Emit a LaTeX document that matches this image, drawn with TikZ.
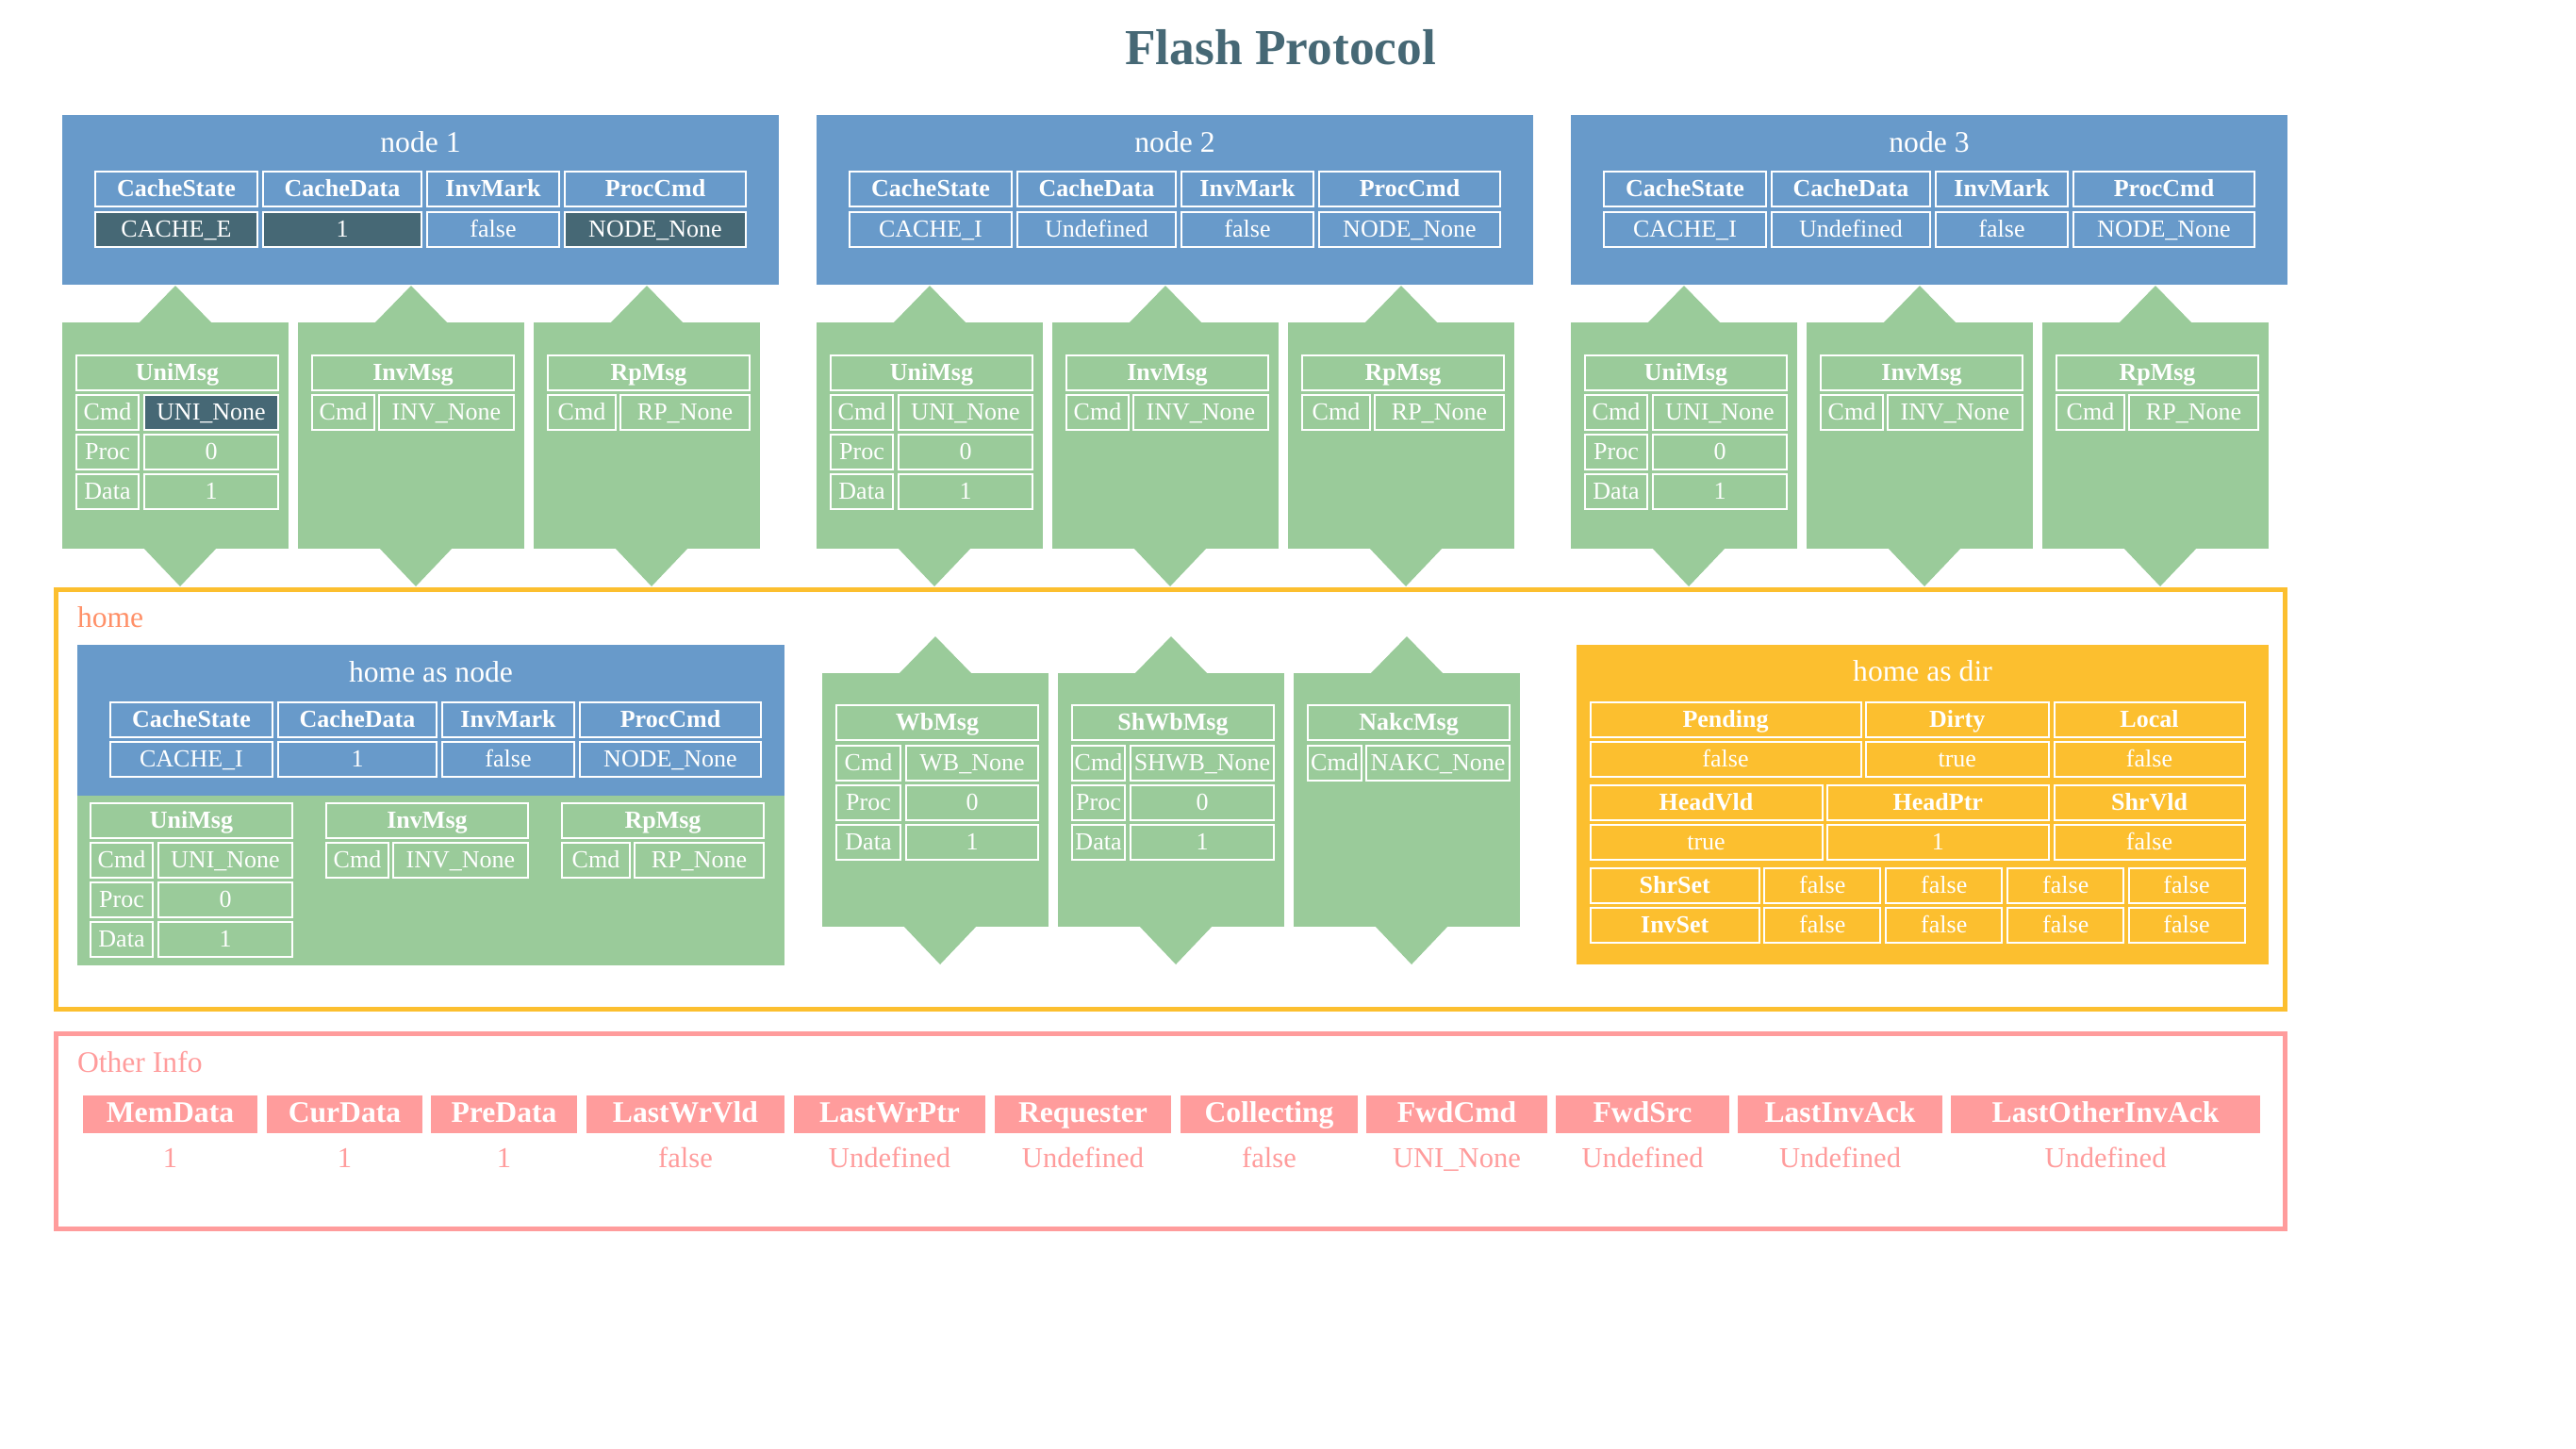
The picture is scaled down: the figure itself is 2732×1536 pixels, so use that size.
\documentclass[tikz,border=0pt]{standalone}
\usepackage{fontspec}
\setmainfont{Liberation Serif}
\usetikzlibrary{positioning}

\definecolor{nodeblue}{HTML}{689ACA}
\definecolor{msggreen}{HTML}{9ACB9A}
\definecolor{dirgold}{HTML}{FCBF2F}
\definecolor{infopink}{HTML}{FF9C9C}
\definecolor{slate}{HTML}{466875}
\definecolor{coral}{HTML}{FF9068}

\begin{document}
\begin{tikzpicture}[
  x=0.1mm, y=-0.1mm,
  every node/.style={inner sep=0pt, outer sep=0pt},
  nodebox/.style={fill=nodeblue, minimum width=76mm, minimum height=18mm},
  msgbox/.style={fill=msggreen, minimum width=24mm},
  wedge/.style={fill=msggreen},
  boxtitle/.style={anchor=base, text=white, font=\fontsize{9}{11}\selectfont},
  zonetitle/.style={anchor=base west, font=\fontsize{9}{11}\selectfont},
  zone/.style={line width=0.5mm, minimum width=236.4mm},
  cell/.style={draw=white, line width=0.2mm, text=white, minimum height=3.7mm,
               text height=2.2mm, text depth=0.56mm, font=\fontsize{7.4}{9}\selectfont},
  hcell/.style={cell, font=\fontsize{7.4}{9}\selectfont\bfseries},
  lit/.style={fill=slate},
  unlit/.style={},
  infokey/.style={fill=infopink, text=white, minimum height=4mm, text height=2.43mm,
                  text depth=0.69mm, font=\fontsize{9}{11}\selectfont\bfseries},
  infoval/.style={anchor=base, text=infopink, font=\fontsize{8.7}{11}\selectfont}
]
\useasboundingbox (0,0) rectangle (2732,1536);

% title
\node[anchor=base, text=slate, font=\fontsize{15.2}{18}\selectfont\bfseries] (title) at (1358,68) {Flash Protocol};

% the three nodes, their state and their message boxes
\foreach \i/\dx/\cstate/\cdata/\tint in {1/0/CACHE\_E/1/lit, 2/80/CACHE\_I/Undefined/unlit,
                                       3/160/CACHE\_I/Undefined/unlit} {
  \begin{scope}[xshift=\dx mm]
    \node[nodebox] (node\i) at (446,212) {};
    \node[boxtitle] (node\i-t) at (446,161) {node \i};
    \node[hcell, minimum width=17.2mm] (cs\i) at (187,200.5) {CacheState};
    \node[hcell, minimum width=16.8mm] (cd\i) at (363,200.5) {CacheData};
    \node[hcell, minimum width=14mm]   (im\i) at (523,200.5) {InvMark};
    \node[hcell, minimum width=19.2mm] (pc\i) at (695,200.5) {ProcCmd};
    \node[cell, \tint, minimum width=17.2mm] (cs\i-v) at (187,243) {\cstate};
    \node[cell, \tint, minimum width=16.8mm] (cd\i-v) at (363,243) {\cdata};
    \node[cell, minimum width=14mm]          (im\i-v) at (523,243) {false};
    \node[cell, \tint, minimum width=19.2mm] (pc\i-v) at (695,243) {NODE\_None};
    \node[msgbox, minimum height=24mm] (uni\i) at (186,462) {};
    \node[msgbox, minimum height=24mm] (inv\i) at (436,462) {};
    \node[msgbox, minimum height=24mm] (rp\i)  at (686,462) {};
  \end{scope}
}

% home
\node[zone, draw=dirgold, minimum height=44.5mm] (home) at (1241,848) {};
\node[zonetitle, text=coral] (home-t) at (82,665) {home};

% home as node
\node[fill=nodeblue, minimum width=75mm, minimum height=16mm] (hnode) at (457,764) {};
\node[fill=msggreen, minimum width=75mm, minimum height=18mm, below=0pt of hnode] (hmsg) {};
\node[boxtitle] (hnode-t) at (457,723) {home as node};
\node[hcell, minimum width=17.2mm] (csh) at (203,763) {CacheState};
\node[hcell, minimum width=16.8mm] (cdh) at (379,763) {CacheData};
\node[hcell, minimum width=14mm]   (imh) at (539,763) {InvMark};
\node[hcell, minimum width=19.2mm] (pch) at (711,763) {ProcCmd};
\node[cell, minimum width=17.2mm] (csh-v) at (203,805) {CACHE\_I};
\node[cell, minimum width=16.8mm] (cdh-v) at (379,805) {1};
\node[cell, minimum width=14mm]   (imh-v) at (539,805) {false};
\node[cell, minimum width=19.2mm] (pch-v) at (711,805) {NODE\_None};

% message tables, under each node and in home
\foreach \s/\dx/\dy/\tint in {1/0/0/lit, 2/80/0/unlit, 3/160/0/unlit, h/1.5/-47.55/unlit} {
  \begin{scope}[xshift=\dx mm, yshift=\dy mm]
    \node[hcell, minimum width=21.4mm] (uni\s-h) at (188,395) {UniMsg};
    \node[cell, minimum width=6.6mm]  (uni\s-c)  at (114,437) {Cmd};
    \node[cell, \tint, minimum width=14.2mm] (uni\s-cv) at (224,437) {UNI\_None};
    \node[cell, minimum width=6.6mm]  (uni\s-p)  at (114,479) {Proc};
    \node[cell, minimum width=14.2mm] (uni\s-pv) at (224,479) {0};
    \node[cell, minimum width=6.6mm]  (uni\s-d)  at (114,521) {Data};
    \node[cell, minimum width=14.2mm] (uni\s-dv) at (224,521) {1};
    \node[hcell, minimum width=21.4mm] (inv\s-h) at (438,395) {InvMsg};
    \node[cell, minimum width=6.6mm]  (inv\s-c)  at (364,437) {Cmd};
    \node[cell, minimum width=14.3mm] (inv\s-cv) at (473.5,437) {INV\_None};
    \node[hcell, minimum width=21.4mm] (rp\s-h) at (688,395) {RpMsg};
    \node[cell, minimum width=7.2mm]  (rp\s-c)  at (617,437) {Cmd};
    \node[cell, minimum width=13.7mm] (rp\s-cv) at (726.5,437) {RP\_None};
  \end{scope}
}

% home's own channels
\node[msgbox, minimum height=26.9mm] (wb)   at (992,848.5) {};
\node[msgbox, minimum height=26.9mm] (shwb) at (1242,848.5) {};
\node[msgbox, minimum height=26.9mm] (nakc) at (1492,848.5) {};

\node[hcell, minimum width=21.4mm] (wb-h) at (994,766.5) {WbMsg};
\node[cell, minimum width=6.8mm] (wb-c)  at (921,809) {Cmd};
\node[cell, minimum width=14mm]  (wb-cv) at (1031,809) {WB\_None};
\node[cell, minimum width=6.8mm] (wb-p)  at (921,851) {Proc};
\node[cell, minimum width=14mm]  (wb-pv) at (1031,851) {0};
\node[cell, minimum width=6.8mm] (wb-d)  at (921,893) {Data};
\node[cell, minimum width=14mm]  (wb-dv) at (1031,893) {1};

\node[hcell, minimum width=21.4mm] (shwb-h) at (1244,766.5) {ShWbMsg};
\node[cell, minimum width=5.6mm]  (shwb-c)  at (1165,809) {Cmd};
\node[cell, minimum width=15.2mm] (shwb-cv) at (1275,809) {SHWB\_None};
\node[cell, minimum width=5.6mm]  (shwb-p)  at (1165,851) {Proc};
\node[cell, minimum width=15.2mm] (shwb-pv) at (1275,851) {0};
\node[cell, minimum width=5.6mm]  (shwb-d)  at (1165,893) {Data};
\node[cell, minimum width=15.2mm] (shwb-dv) at (1275,893) {1};

\node[hcell, minimum width=21.4mm] (nakc-h) at (1494,766.5) {NakcMsg};
\node[cell, minimum width=5.7mm]  (nakc-c)  at (1415.5,809) {Cmd};
\node[cell, minimum width=15.2mm] (nakc-cv) at (1525,809) {NAKC\_None};

% the wedges on each message box
\foreach \m in {uni1,inv1,rp1,uni2,inv2,rp2,uni3,inv3,rp3,wb,shwb,nakc} {
  \fill[wedge] ([xshift=-4mm, yshift=-0.2mm]\m.north) -- ([yshift=3.9mm]\m.north)
               -- ([xshift=4mm, yshift=-0.2mm]\m.north) -- cycle;
  \fill[wedge] ([xshift=-3.5mm, yshift=0.2mm]\m.south) -- ([xshift=0.5mm, yshift=-4mm]\m.south)
               -- ([xshift=4.5mm, yshift=0.2mm]\m.south) -- cycle;
}

% home as dir
\node[fill=dirgold, minimum width=73.4mm, minimum height=33.9mm] (hdir) at (2039,853.5) {};
\node[boxtitle] (hdir-t) at (2039,722) {home as dir};
\foreach \c/\w/\k/\v/\y in {1830/28.7/Pending/false/763, 2075.75/19.35/Dirty/true/763,
                            2279.5/20.2/Local/false/763, 1809.5/24.6/HeadVld/true/851,
                            2055.25/23.45/HeadPtr/1/851, 2279.5/20.2/ShrVld/false/851} {
  \node[hcell, minimum width=\w mm] (\k) at (\c,\y) {\k};
  \node[cell, minimum width=\w mm] (\k-v) at (\c,\y+42) {\v};
}
\node[hcell, minimum width=17.95mm] (ShrSet) at (1776.25,939) {ShrSet};
\node[hcell, minimum width=17.95mm] (InvSet) at (1776.25,981) {InvSet};
\foreach \x [count=\k] in {1932.75,2061.75,2190.75,2319} {
  \node[cell, minimum width=12.3mm] (ShrSet-\k) at (\x,939) {false};
  \node[cell, minimum width=12.3mm] (InvSet-\k) at (\x,981) {false};
}

% other info
\node[zone, draw=infopink, minimum height=20.65mm] (other) at (1241,1199.75) {};
\node[zonetitle, text=infopink] (other-t) at (82,1137) {Other Info};
\foreach \c/\w/\k/\v in {180.5/18.5/MemData/1, 365.5/16.5/CurData/1, 534.5/15.5/PreData/1,
                         727/21/LastWrVld/false, 943.5/20.3/LastWrPtr/Undefined,
                         1148.5/18.7/Requester/Undefined, 1346/18.8/Collecting/false,
                         1545/19.2/FwdCmd/UNI\_None, 1742/18.4/FwdSrc/Undefined,
                         1951.5/21.7/LastInvAck/Undefined, 2233/32.8/LastOtherInvAck/Undefined} {
  \node[infokey, minimum width=\w mm] (\k) at (\c,1182) {\k};
  \node[infoval] (\k-v) at (\c,1238) {\v};
}
\end{tikzpicture}
\end{document}
